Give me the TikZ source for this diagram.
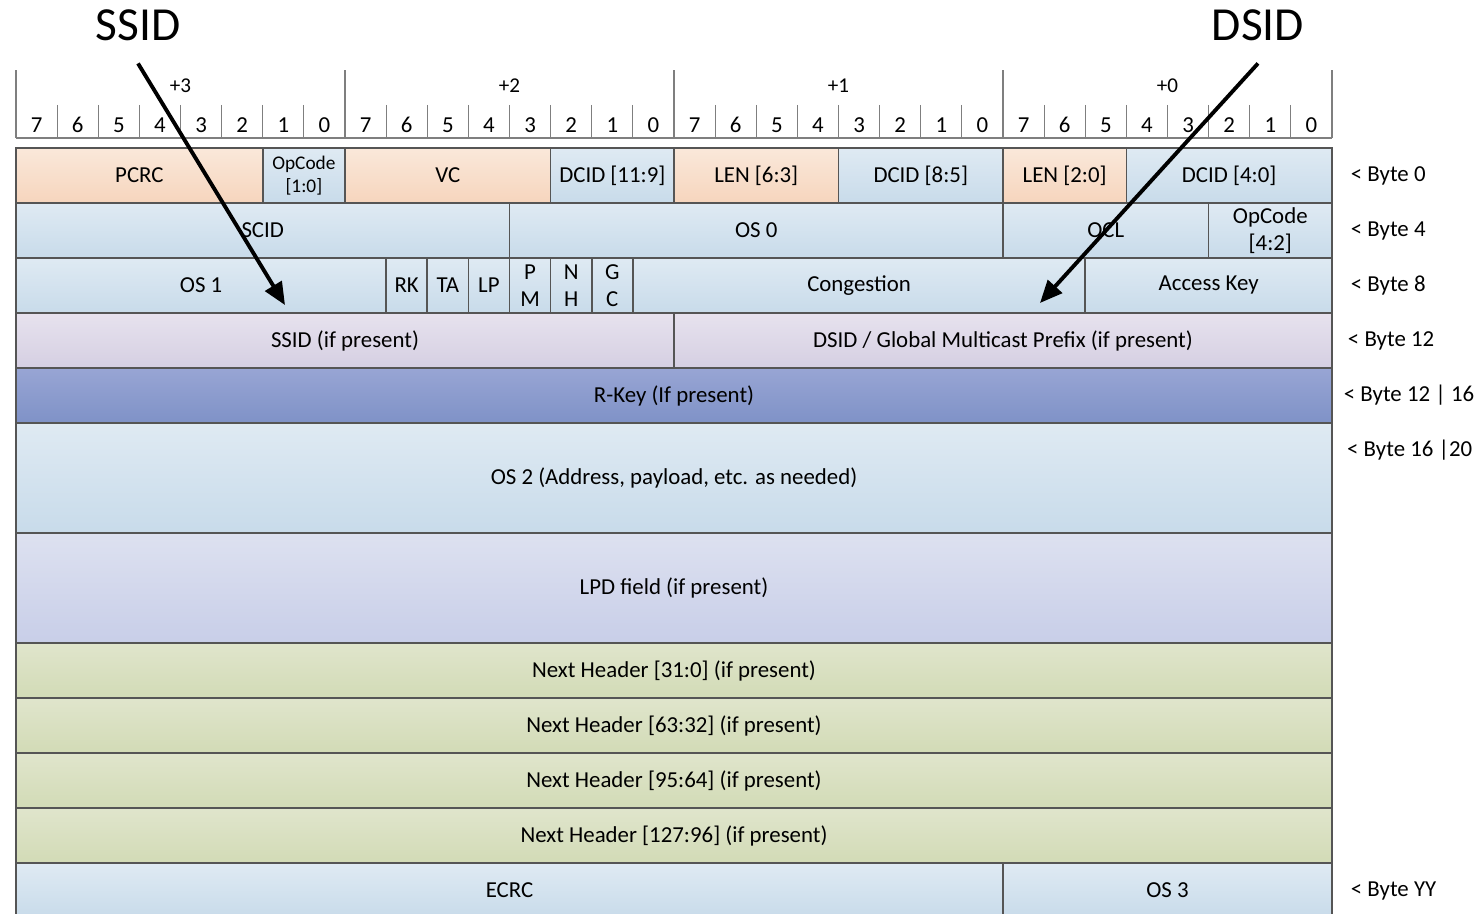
\documentclass[tikz,border=0pt]{standalone}
\usepackage{fontspec}
\setmainfont{Carlito}
\usetikzlibrary{arrows.meta}

\definecolor{linegray}{HTML}{555555}
\definecolor{rulegray}{HTML}{7F7F7F}
\definecolor{peachtop}{HTML}{FAE8DA}
\definecolor{peachbot}{HTML}{F6D5BD}
\definecolor{steeltop}{HTML}{DFEAF3}
\definecolor{steelbot}{HTML}{C8DBEA}
\definecolor{lilactop}{HTML}{E7E2EE}
\definecolor{lilacbot}{HTML}{D5CFE2}
\definecolor{rkeytop}{HTML}{98A5D4}
\definecolor{rkeybot}{HTML}{7F92C7}
\definecolor{lpdtop}{HTML}{DDE1F0}
\definecolor{lpdbot}{HTML}{C8CEE8}
\definecolor{olivetop}{HTML}{E0E5CC}
\definecolor{olivebot}{HTML}{D2DBB6}

\begin{document}
\begin{tikzpicture}[
    x=0.8225cm,
    y=-1.1cm,
    field/.style={
        rectangle,
        draw=linegray,
        line width=0.9pt,
        anchor=north west,
        minimum height=1.1cm,
        inner sep=0pt,
        outer sep=0pt,
        align=center,
        font=\fontsize{13}{15.5}\selectfont,
    },
    bits/.style={minimum width=#1*0.8225cm},
    rows/.style={minimum height=#1*1.1cm},
    peach/.style={field, top color=peachtop, bottom color=peachbot},
    steel/.style={field, top color=steeltop, bottom color=steelbot},
    lilac/.style={field, top color=lilactop, bottom color=lilacbot},
    rkey/.style={field, top color=rkeytop, bottom color=rkeybot},
    lpd/.style={field, top color=lpdtop, bottom color=lpdbot},
    olive/.style={field, top color=olivetop, bottom color=olivebot},
    tick/.style={draw=rulegray, line width=0.7pt},
    bitnum/.style={inner sep=0pt, font=\fontsize{13}{15.5}\selectfont},
    bytenum/.style={inner sep=0pt, font=\fontsize{12}{14}\selectfont},
    offset/.style={anchor=west, inner sep=0pt, font=\fontsize{13}{15.5}\selectfont},
    heading/.style={inner sep=0pt, font=\fontsize{27}{32}\selectfont},
    pointer/.style={line width=2.2pt, -{Triangle[length=0.45cm, width=0.38cm]}}
]

    \useasboundingbox (-0.389,-2.691) rectangle (35.502,13.927);

    % bit ruler
    \foreach \b in {0,8,...,32}
        \draw[tick] (\b,-1.418) -- (\b,-0.182);
    \foreach \b in {1,...,31}
        \draw[tick] (\b,-0.782) -- (\b,-0.182);
    \draw[tick] (0,-0.182) -- (32,-0.182);

    \foreach \b in {0,...,31} {
        \pgfmathtruncatemacro\n{7-mod(\b,8)}
        \node[bitnum] (bit\b) at (\b+0.5,-0.418) {\n};
    }
    \foreach \k in {0,...,3} {
        \pgfmathtruncatemacro\n{3-\k}
        \node[bytenum] (byte\n) at (8*\k+4,-1.127) {+\n};
    }

    % row 0
    \node[peach, bits=6] (pcrc) at (0,0) {PCRC};
    \node[steel, bits=2, font=\fontsize{11}{13}\selectfont] (opcodelo) at (6,0) {OpCode\\{[1:0]}};
    \node[peach, bits=5] (vc) at (8,0) {VC};
    \node[steel, bits=3] (dcidhi) at (13,0) {DCID [11:9]};
    \node[peach, bits=4] (lenhi) at (16,0) {LEN [6:3]};
    \node[steel, bits=4] (dcidmid) at (20,0) {DCID [8:5]};
    \node[peach, bits=3] (lenlo) at (24,0) {LEN [2:0]};
    \node[steel, bits=5] (dcidlo) at (27,0) {DCID [4:0]};

    % row 1
    \node[steel, bits=12] (scid) at (0,1) {SCID};
    \node[steel, bits=12] (os0) at (12,1) {OS 0};
    \node[steel, bits=5] (ocl) at (24,1) {OCL};
    \node[steel, bits=3] (opcodehi) at (29,1) {OpCode\\{[4:2]}};

    % row 2
    \node[steel, bits=9] (os1) at (0,2) {OS 1};
    \node[steel, bits=1] (rk) at (9,2) {RK};
    \node[steel, bits=1] (ta) at (10,2) {TA};
    \node[steel, bits=1] (lp) at (11,2) {LP};
    \node[steel, bits=1] (pm) at (12,2) {P\\M};
    \node[steel, bits=1] (nh) at (13,2) {N\\H};
    \node[steel, bits=1] (gc) at (14,2) {G\\C};
    \node[steel, bits=11] (congestion) at (15,2) {Congestion};
    \node[steel, bits=6] (accesskey) at (26,2) {Access Key};

    % row 3 and on
    \node[lilac, bits=16] (ssid) at (0,3) {SSID (if present)};
    \node[lilac, bits=16] (dsid) at (16,3) {DSID / Global Multicast Prefix (if present)};
    \node[rkey, bits=32] (rkeyfld) at (0,4) {R-Key (If present)};
    \node[steel, bits=32, rows=2] (os2) at (0,5) {OS 2 (Address, payload, etc. as needed)};
    \node[lpd, bits=32, rows=2] (lpdfld) at (0,7) {LPD field (if present)};
    \node[olive, bits=32] (nh0) at (0,9) {Next Header [31:0] (if present)};
    \node[olive, bits=32] (nh1) at (0,10) {Next Header [63:32] (if present)};
    \node[olive, bits=32] (nh2) at (0,11) {Next Header [95:64] (if present)};
    \node[olive, bits=32] (nh3) at (0,12) {Next Header [127:96] (if present)};
    \node[steel, bits=24] (ecrc) at (0,13) {ECRC};
    \node[steel, bits=8] (os3) at (24,13) {OS 3};

    % byte offsets
    \node[offset] (off0) at (32.45,0.5) {< Byte 0};
    \node[offset] (off4) at (32.45,1.5) {< Byte 4};
    \node[offset] (off8) at (32.45,2.5) {< Byte 8};
    \node[offset] (off12) at (32.38,3.5) {< Byte 12};
    \node[offset] (off16) at (32.28,4.5) {< Byte 12 | 16};
    \node[offset] (off20) at (32.36,5.5) {< Byte 16 |20};
    \node[offset] (offyy) at (32.45,13.5) {< Byte YY};

    % pointers
    \node[heading] (ssidlbl) at (2.967,-2.236) {SSID};
    \node[heading] (dsidlbl) at (30.2,-2.236) {DSID};
    \coordinate (ssidtip) at (6.541,2.855);
    \coordinate (dsidtip) at (24.9,2.818);
    \draw[pointer] ([yshift=-0.45cm]ssidlbl.south) -- (ssidtip);
    \draw[pointer] ([yshift=-0.45cm]dsidlbl.south) -- (dsidtip);
\end{tikzpicture}
\end{document}
